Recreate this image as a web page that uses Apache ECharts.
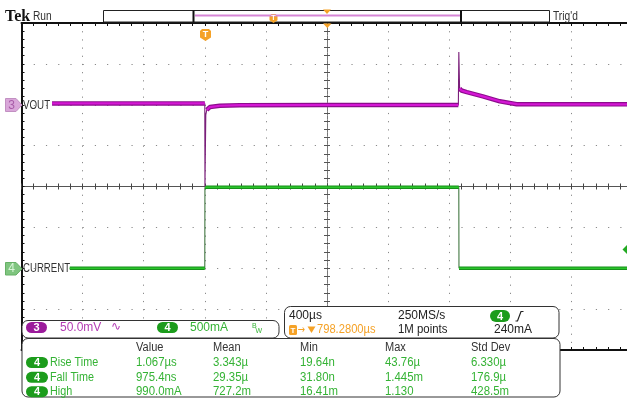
<!DOCTYPE html>
<html>
<head>
<meta charset="utf-8">
<script src="https://cdn.jsdelivr.net/npm/echarts@6/dist/echarts.min.js"></script>
<style>
html,body{margin:0;padding:0;background:#fff;overflow:hidden;}
#c{width:640px;height:399px;}
</style>
</head>
<body>
<div id="c"></div>
<script>
// ---- data (time in µs relative to trigger) ----
const vTime = [-1000, -500, 0, 1, 6.5, 13, 33, 98, 229, 800, 1660, 1663, 1668, 1680, 1715, 1820, 1931, 2042, 2300, 2800];
const vOut  = [1.6, 1.6, 1.6, -100, -12.5, -6.4, -2.8, -1.2, -0.5, -0.3, -0.3, 64.5, 20, 17.4, 15.5, 10.3, 4.2, 0.7, 0.5, 0.5]; // mV
const iTime = [-884, 0, 1, 1663, 1664, 2800];
const iOut  = [0, 0, 990, 990, 0, 0]; // mA

const xTicks = [-1200, 2800, 400];       // min, max, interval (µs, 400µs/div)
const ch3Range = [-300, 100];            // mV (50mV/div)
const ch4Range = [-1000, 3000];          // mA (500mA/div)
const divRange = [-4, 4];

const ch3Label = 'VOUT', ch4Label = 'CURRENT';
const ch3Scale = '50.0mV', ch4Scale = '500mA';
const timebase = '400µs', sampleRate = '250MS/s', recLen = '1M points';
const trigLevel = '240mA', trigPos = '798.2800µs';

const measHeaders = ['Value', 'Mean', 'Min', 'Max', 'Std Dev'];
const measNames = ['Rise Time', 'Fall Time', 'High'];
const measValue = ['1.067µs', '975.4ns', '990.0mA'];
const measMean  = ['3.343µ', '29.35µ', '727.2m'];
const measMin   = ['19.64n', '31.80n', '16.41m'];
const measMax   = ['43.76µ', '1.445m', '1.130'];
const measStd   = ['6.330µ', '176.9µ', '428.5m'];

// ---- layout ----
const G = {left: 21.5, top: 23, width: 611, height: 327};
const pxX = G.width / (xTicks[1] - xTicks[0]);

function pairs(ts, vs) { return ts.map((t, i) => [t, vs[i]]); }
function flatParts(ts, vs, pxY) {
  const out = [];
  for (let i = 0; i < ts.length; i++) {
    if (i > 0) {
      const dx = Math.abs(ts[i] - ts[i-1]) * pxX;
      const dy = Math.abs(vs[i] - vs[i-1]) * pxY;
      if (dy > 2 * dx + 1.5) out.push([ts[i], '-']);
    }
    out.push([ts[i], vs[i]]);
  }
  return out;
}
const pxY3 = G.height / (ch3Range[1] - ch3Range[0]);
const pxY4 = G.height / (ch4Range[1] - ch4Range[0]);

function xAx(extra) {
  return Object.assign({type: 'value', min: xTicks[0], max: xTicks[1], interval: xTicks[2],
    axisLabel: {show: false}, splitLine: {show: false}}, extra);
}
function yAx(extra) {
  return Object.assign({type: 'value', min: divRange[0], max: divRange[1], interval: 1,
    axisLabel: {show: false}, splitLine: {show: false}}, extra);
}
const edgeLine = {show: true, onZero: false, lineStyle: {color: '#111', width: 2}};
const centerLineH = {show: true, onZero: false, lineStyle: {color: '#555', width: 1}};
const centerLineV = {show: true, onZero: false, lineStyle: {color: '#777', width: 1, type: [3, 1.2]}};
const tickIn = (c) => ({show: true, inside: true, length: 3, lineStyle: {color: c, width: 1}});
const tickOut = (c) => ({show: true, inside: false, length: 3, lineStyle: {color: c, width: 1}});
const minor = (c) => ({show: true, splitNumber: 5, length: 3, lineStyle: {color: c, width: 1}});

const F = '"Liberation Sans", Arial, sans-serif';
const ORANGE = '#f5a227';
const GREEN_T = '#35b335';
const PURPLE_T = '#b43cb4';
const els = [];
function txt(x, y, s, color, size, opt) {
  opt = opt || {};
  els.push({type: 'text', x: x, y: y, scaleX: opt.scaleX || 1, z: 110,
    style: {text: s, fill: color, font: (opt.bold ? 'bold ' : '') + size + 'px ' + (opt.font || F),
      textAlign: opt.align || 'left', align: opt.align || 'left',
      textVerticalAlign: 'middle', verticalAlign: 'middle'}});
}
function rrect(x, y, w, h, r, fill, stroke, z) {
  els.push({type: 'rect', z: z || 100, shape: {x: x, y: y, width: w, height: h, r: r},
    style: {fill: fill, stroke: stroke || null, lineWidth: 1}});
}
function pill(x, y, w, h, color, s) {
  rrect(x, y, w, h, h / 2, color, null, 105);
  txt(x + w / 2, y + h / 2 + 0.5, s, '#fff', 11, {align: 'center', bold: true});
}
function shield(cx, y0, w, h) {
  const a = w / 2;
  els.push({type: 'polygon', z: 105, shape: {points: [[cx - a, y0 + 2], [cx - a + 2, y0], [cx + a - 2, y0], [cx + a, y0 + 2],
    [cx + a, y0 + h * 0.7], [cx, y0 + h], [cx - a, y0 + h * 0.7]]}, style: {fill: ORANGE}});
  txt(cx, y0 + h * 0.42, 'T', '#fff', Math.round(h * 0.75), {align: 'center', bold: true});
}
function tri(points, color, stroke) {
  els.push({type: 'polygon', z: 106, shape: {points: points}, style: {fill: color, stroke: stroke || null, lineWidth: 1}});
}
function line(x1, y1, x2, y2, color, w, z) {
  els.push({type: 'line', z: z || 106, shape: {x1: x1, y1: y1, x2: x2, y2: y2}, style: {stroke: color, lineWidth: w}});
}

// header
txt(5, 16.5, 'Tek', '#111', 16, {bold: true, font: '"Liberation Serif", serif'});
txt(33, 16.5, 'Run', '#333', 12, {scaleX: 0.85});
txt(553, 16.5, "Trig'd", '#333', 12, {scaleX: 0.85});
rrect(103.5, 10.5, 446, 11.5, 0, '#fff', '#222', 100);
line(195, 15.5, 460, 15.5, '#d685d6', 2);
line(193.5, 10.5, 193.5, 22, '#111', 2);
line(461, 10.5, 461, 22, '#111', 2);
shield(273.5, 14, 8, 9);
tri([[323, 9.5], [331, 9.5], [327, 14]], ORANGE);
tri([[323, 23.5], [331.5, 23.5], [327.3, 28]], ORANGE);
shield(205.5, 29, 11, 12);

// channel ground markers
tri([[5.5, 98.5], [16, 98.5], [22, 105], [16, 111.5], [5.5, 111.5]], '#d9a6d9', '#c290c2');
txt(11.5, 105.5, '3', '#a85ca8', 12, {align: 'center'});
txt(23, 105.3, ch3Label, '#333', 13, {scaleX: 0.75});
tri([[5.5, 262.5], [16, 262.5], [22, 268.8], [16, 275], [5.5, 275]], '#7fc57f', '#66b066');
txt(11.5, 269, '4', '#d9f5d9', 12, {align: 'center'});
txt(23, 268.5, ch4Label, '#333', 13, {scaleX: 0.74});
tri([[622.5, 249.5], [627, 245], [627, 254]], '#22aa22');

// channel box
rrect(22, 320.5, 257, 17.5, 6, '#fff', '#333', 100);
pill(26, 322, 21, 11, '#9b1b9b', '3');
txt(60, 328, ch3Scale, PURPLE_T, 12);
txt(111, 327, '∿', PURPLE_T, 12, {font: '"DejaVu Sans", sans-serif'});
pill(157, 322, 21, 11, '#1c9c1c', '4');
txt(190, 328, ch4Scale, GREEN_T, 12);
txt(252, 326.5, 'B', GREEN_T, 7);
txt(255.5, 331, 'W', GREEN_T, 7);

// timebase box
rrect(284.5, 306.5, 274.5, 31.5, 6, '#fff', '#333', 100);
txt(289, 316, timebase, '#222', 12);
txt(398, 316, sampleRate, '#222', 12);
pill(490, 310, 20, 12, '#1c9c1c', '4');
els.push({type: 'polyline', z: 106, shape: {points: [[515.5, 321], [517.5, 321], [521, 311.5], [523.5, 311.5]]}, style: {stroke: '#222', lineWidth: 1.2, fill: null}});
els.push({type: 'rect', z: 105, shape: {x: 289, y: 325, width: 8, height: 10, r: 1.5}, style: {fill: ORANGE}});
txt(293, 330.3, 'T', '#fff', 8, {align: 'center', bold: true});
txt(297.5, 330, '→', ORANGE, 11, {font: '"DejaVu Sans", sans-serif', scaleX: 0.8});
tri([[307.5, 326.5], [315.5, 326.5], [311.5, 333]], ORANGE);
txt(317, 330, trigPos, ORANGE, 12, {scaleX: 0.93});
txt(398, 330, recLen, '#222', 12, {scaleX: 0.95});
txt(494, 330, trigLevel, '#222', 12);

// measurement box
rrect(22, 338.5, 538, 58.5, 6, '#fff', '#333', 100);
const colX = [136, 213, 300, 385, 471];
const rowY = [362.5, 377.3, 391.7];
measHeaders.forEach((h, i) => txt(colX[i], 348, h, '#333', 12, {scaleX: 0.92}));
const cols = [measValue, measMean, measMin, measMax, measStd];
measNames.forEach((n, r) => {
  pill(26, rowY[r] - 5.5, 22, 11, '#1c9c1c', '4');
  txt(50, rowY[r], n, GREEN_T, 12, {scaleX: 0.9});
  cols.forEach((c, k) => txt(colX[k], rowY[r], c[r], GREEN_T, 12, {scaleX: 0.95}));
});

const option = {
  animation: false,
  backgroundColor: '#fff',
  grid: {left: G.left, top: G.top, width: G.width, height: G.height, containLabel: false},
  xAxis: [
    xAx({position: 'bottom', axisLine: edgeLine, axisTick: tickIn('#111'), minorTick: minor('#111'),
      splitLine: {show: true, lineStyle: {color: '#8a8a8a', width: 1, type: [1.2, 6.975]}}}),
    xAx({position: 'top', axisLine: edgeLine, axisTick: tickIn('#111'), minorTick: minor('#111')}),
    xAx({position: 'bottom', offset: -G.height / 2, axisLine: centerLineH, axisTick: tickIn('#444'), minorTick: minor('#444')}),
    xAx({position: 'bottom', offset: -G.height / 2, axisLine: centerLineH, axisTick: tickOut('#444'), minorTick: minor('#444')})
  ],
  yAxis: [
    {type: 'value', min: ch3Range[0], max: ch3Range[1], show: false},
    {type: 'value', min: ch4Range[0], max: ch4Range[1], show: false},
    yAx({position: 'left', axisLine: edgeLine, axisTick: tickIn('#111'), minorTick: minor('#111'),
      splitLine: {show: true, lineStyle: {color: '#8a8a8a', width: 1, type: [1.2, 11.02]}}}),
    yAx({position: 'left', offset: -G.width / 2, axisLine: centerLineV, axisTick: tickIn('#555'), minorTick: minor('#555')}),
    yAx({position: 'left', offset: -G.width / 2, axisLine: centerLineV, axisTick: tickOut('#555'), minorTick: minor('#555')})
  ],
  series: [
    {type: 'line', xAxisIndex: 0, yAxisIndex: 1, data: pairs(iTime, iOut), symbol: 'none', silent: true, z: 3,
      lineStyle: {width: 1, color: '#2f6a2f'}},
    {type: 'line', xAxisIndex: 0, yAxisIndex: 1, data: flatParts(iTime, iOut, pxY4), symbol: 'none', silent: true, z: 4, connectNulls: false,
      lineStyle: {width: 3.4, color: '#17901a'}},
    {type: 'line', xAxisIndex: 0, yAxisIndex: 1, data: flatParts(iTime, iOut, pxY4), symbol: 'none', silent: true, z: 5, connectNulls: false,
      lineStyle: {width: 1.5, color: '#2ac42a'}},
    {type: 'line', xAxisIndex: 0, yAxisIndex: 0, data: pairs(vTime, vOut), symbol: 'none', silent: true, z: 6,
      lineStyle: {width: 1.1, color: '#7a1f7a'}},
    {type: 'line', xAxisIndex: 0, yAxisIndex: 0, data: flatParts(vTime, vOut, pxY3), symbol: 'none', silent: true, z: 7, connectNulls: false,
      lineStyle: {width: 4.5, color: '#8c0c8c'}},
    {type: 'line', xAxisIndex: 0, yAxisIndex: 0, data: flatParts(vTime, vOut, pxY3), symbol: 'none', silent: true, z: 8, connectNulls: false,
      lineStyle: {width: 2.2, color: '#d417d4'}}
  ],
  graphic: {elements: els}
};
const chart = echarts.init(document.getElementById('c'), null, {renderer: 'canvas'});
chart.setOption(option);
</script>
</body>
</html>
